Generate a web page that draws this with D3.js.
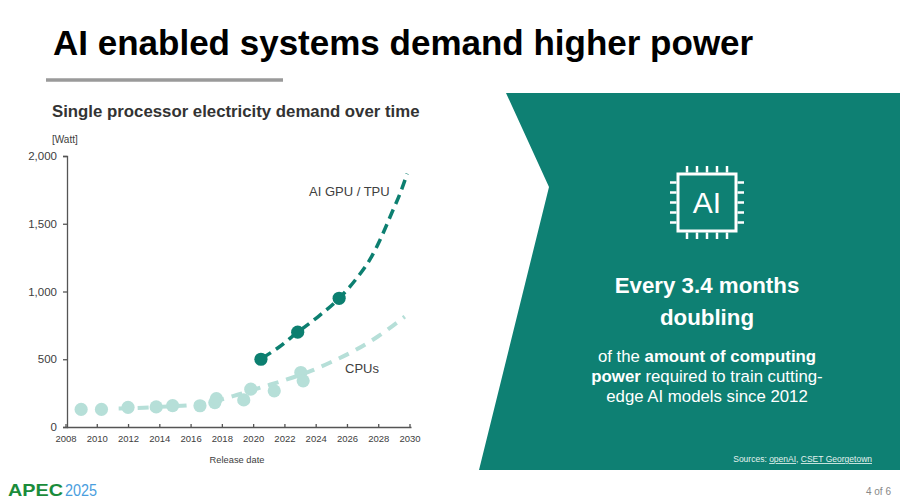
<!DOCTYPE html>
<html>
<head>
<meta charset="utf-8">
<script src="https://cdn.jsdelivr.net/npm/d3@7"></script>
<style>
  html, body { margin: 0; padding: 0; background: #fff; }
  svg { display: block; font-family: "Liberation Sans", Arial, sans-serif; }
</style>
</head>
<body>
<svg id="chart" width="900" height="500"></svg>
<script>
// values
const cpuYear = [2009.0, 2010.3, 2012.0, 2013.8, 2014.85, 2016.6, 2017.55, 2017.65, 2019.4, 2019.85, 2021.35, 2023.05, 2023.2]
const cpuWatt = [130, 130, 145, 148, 158, 157, 180, 210, 200, 279, 267, 402, 341]

const gpuYear = [2020.5, 2022.85, 2025.5]
const gpuWatt = [500, 700, 950]

// dashed trend lines
const cpuTrendYear = [2011.4, 2013.0, 2014.5, 2016.0, 2017.5, 2019.0, 2020.5, 2022.0, 2023.5, 2025.0, 2026.5, 2028.0, 2029.7]
const cpuTrendWatt = [136, 142, 152, 162, 190, 238, 292, 345, 405, 480, 565, 670, 815]
const gpuTrendYear = [2020.6, 2021.6, 2022.85, 2024.0, 2025.5, 2026.6, 2027.5, 2028.2, 2028.85, 2029.4, 2029.85]
const gpuTrendWatt = [510, 585, 700, 800, 950, 1094, 1242, 1402, 1576, 1724, 1870]

const xTicks = [2008, 2010, 2012, 2014, 2016, 2018, 2020, 2022, 2024, 2026, 2028, 2030]
const yTicks = [0, 500, 1000, 1500, 2000]

const bodyLines = [
  [['of the ', false], ['amount of computing', true]],
  [['power', true], [' required to train cutting-', false]],
  [['edge AI models since 2012', false]]
]

const dark = '#0c7f70'
const light = '#b6dfd8'
const panel = '#0e8073'
const axisGrey = '#555'
const labelGrey = '#404040'

const svg = d3.select('#chart')

// --- header ---
svg.append('text')
  .attr('x', 53).attr('y', 55)
  .attr('font-size', 35).attr('font-weight', 'bold').attr('fill', '#000')
  .text('AI enabled systems demand higher power')

svg.append('line')
  .attr('x1', 46).attr('x2', 283).attr('y1', 80).attr('y2', 80)
  .attr('stroke', '#9a9a9a').attr('stroke-width', 3.5)

svg.append('text')
  .attr('x', 52).attr('y', 117)
  .attr('font-size', 16.8).attr('font-weight', 'bold').attr('fill', '#333')
  .text('Single processor electricity demand over time')

// --- chart ---
const x = d3.scaleLinear().domain([2008, 2030]).range([65.5, 409.5])
const y = d3.scaleLinear().domain([0, 2000]).range([427, 156])

const yAxis = svg.append('g')
  .attr('transform', 'translate(67,0)')
  .call(d3.axisLeft(y).tickValues(yTicks).tickFormat(d3.format(',')).tickSizeOuter(0).tickSize(4).tickPadding(6))
yAxis.selectAll('text').attr('font-size', 11.5).attr('fill', labelGrey).attr('font-family', null)
yAxis.selectAll('line, path').attr('stroke', axisGrey).attr('stroke-width', 1.3)

const xAxis = svg.append('g')
  .attr('transform', `translate(0,${y(0)})`)
  .call(d3.axisBottom(x).tickValues(xTicks).tickFormat(d3.format('d')).tickSizeOuter(0).tickSize(-3).tickPadding(8))
xAxis.selectAll('text').attr('font-size', 9.5).attr('fill', labelGrey).attr('font-family', null)
xAxis.selectAll('line, path').attr('stroke', axisGrey).attr('stroke-width', 1.3)
xAxis.select('.domain').attr('d', `M67,0.5H${x(2030) + 2}`)

svg.append('text')
  .attr('x', 52).attr('y', 143)
  .attr('font-size', 10).attr('fill', labelGrey)
  .text('[Watt]')

svg.append('text')
  .attr('x', 237).attr('y', 463)
  .attr('text-anchor', 'middle')
  .attr('font-size', 9.3).attr('fill', labelGrey)
  .text('Release date')

const line = d3.line()
  .x((d) => x(d[0]))
  .y((d) => y(d[1]))
  .curve(d3.curveMonotoneX)

// CPU points + trend
svg.append('g')
  .selectAll('circle')
  .data(d3.zip(cpuYear, cpuWatt))
  .join('circle')
  .attr('cx', (d) => x(d[0]))
  .attr('cy', (d) => y(d[1]))
  .attr('r', 6.6)
  .attr('fill', light)

svg.append('path')
  .datum(d3.zip(cpuTrendYear, cpuTrendWatt))
  .attr('d', line)
  .attr('fill', 'none')
  .attr('stroke', light)
  .attr('stroke-width', 4)
  .attr('stroke-dasharray', '11,8')

// GPU trend + points
svg.append('path')
  .datum(d3.zip(gpuTrendYear, gpuTrendWatt))
  .attr('d', line)
  .attr('fill', 'none')
  .attr('stroke', dark)
  .attr('stroke-width', 3.5)
  .attr('stroke-dasharray', '10,6')

svg.append('g')
  .selectAll('circle')
  .data(d3.zip(gpuYear, gpuWatt))
  .join('circle')
  .attr('cx', (d) => x(d[0]))
  .attr('cy', (d) => y(d[1]))
  .attr('r', 6.6)
  .attr('fill', dark)

svg.append('text')
  .attr('x', 309).attr('y', 196)
  .attr('font-size', 13).attr('fill', labelGrey)
  .text('AI GPU / TPU')

svg.append('text')
  .attr('x', 345).attr('y', 373)
  .attr('font-size', 13).attr('fill', labelGrey)
  .text('CPUs')

// --- right panel ---
svg.append('path')
  .attr('d', 'M506,93L900,93L900,470L479,470L549,187Z')
  .attr('fill', panel)

// chip icon
const chip = svg.append('g').attr('stroke', '#fff').attr('fill', 'none')
chip.append('rect')
  .attr('x', 678).attr('y', 174).attr('width', 58).attr('height', 57)
  .attr('stroke-width', 3)
const pins = [-20, -10, 0, 10, 20]
pins.forEach((p) => {
  chip.append('line').attr('x1', 707 + p).attr('x2', 707 + p).attr('y1', 166).attr('y2', 172.5).attr('stroke-width', 2.5)
  chip.append('line').attr('x1', 707 + p).attr('x2', 707 + p).attr('y1', 232.5).attr('y2', 239).attr('stroke-width', 2.5)
  chip.append('line').attr('y1', 202.5 + p).attr('y2', 202.5 + p).attr('x1', 670).attr('x2', 676.5).attr('stroke-width', 2.5)
  chip.append('line').attr('y1', 202.5 + p).attr('y2', 202.5 + p).attr('x1', 737.5).attr('x2', 744).attr('stroke-width', 2.5)
})
svg.append('text')
  .attr('x', 707).attr('y', 213)
  .attr('text-anchor', 'middle')
  .attr('font-size', 30).attr('fill', '#fff')
  .text('AI')

svg.append('text')
  .attr('x', 707).attr('y', 293)
  .attr('text-anchor', 'middle')
  .attr('font-size', 22.3).attr('font-weight', 'bold').attr('fill', '#fff')
  .text('Every 3.4 months')
svg.append('text')
  .attr('x', 707).attr('y', 325)
  .attr('text-anchor', 'middle')
  .attr('font-size', 22.3).attr('font-weight', 'bold').attr('fill', '#fff')
  .text('doubling')

bodyLines.forEach((parts, i) => {
  const t = svg.append('text')
    .attr('x', 707).attr('y', 361.5 + i * 20)
    .attr('text-anchor', 'middle')
    .attr('font-size', 16.8).attr('fill', '#fff')
  parts.forEach(([s, b]) => {
    t.append('tspan').attr('font-weight', b ? 'bold' : 'normal').text(s)
  })
})

const src = svg.append('text')
  .attr('x', 872).attr('y', 462)
  .attr('text-anchor', 'end')
  .attr('font-size', 8.5).attr('fill', '#e4f2ef')
src.append('tspan').text('Sources: ')
src.append('tspan').attr('text-decoration', 'underline').text('openAI')
src.append('tspan').text(', ')
src.append('tspan').attr('text-decoration', 'underline').text('CSET Georgetown')

// --- footer ---
svg.append('text')
  .attr('x', 891).attr('y', 495)
  .attr('text-anchor', 'end')
  .attr('font-size', 10).attr('fill', '#888')
  .text('4 of 6')

const logo = svg.append('text')
  .attr('x', 8).attr('y', 496)
  .attr('font-size', 17).attr('font-weight', 'bold')
logo.append('tspan').attr('fill', '#1a8c3b').attr('textLength', 55).attr('lengthAdjust', 'spacingAndGlyphs').text('APEC')
logo.append('tspan').attr('fill', '#4a9ede').attr('font-weight', 'normal').attr('dx', 2).attr('textLength', 32).attr('lengthAdjust', 'spacingAndGlyphs').text('2025')
</script>
</body>
</html>
